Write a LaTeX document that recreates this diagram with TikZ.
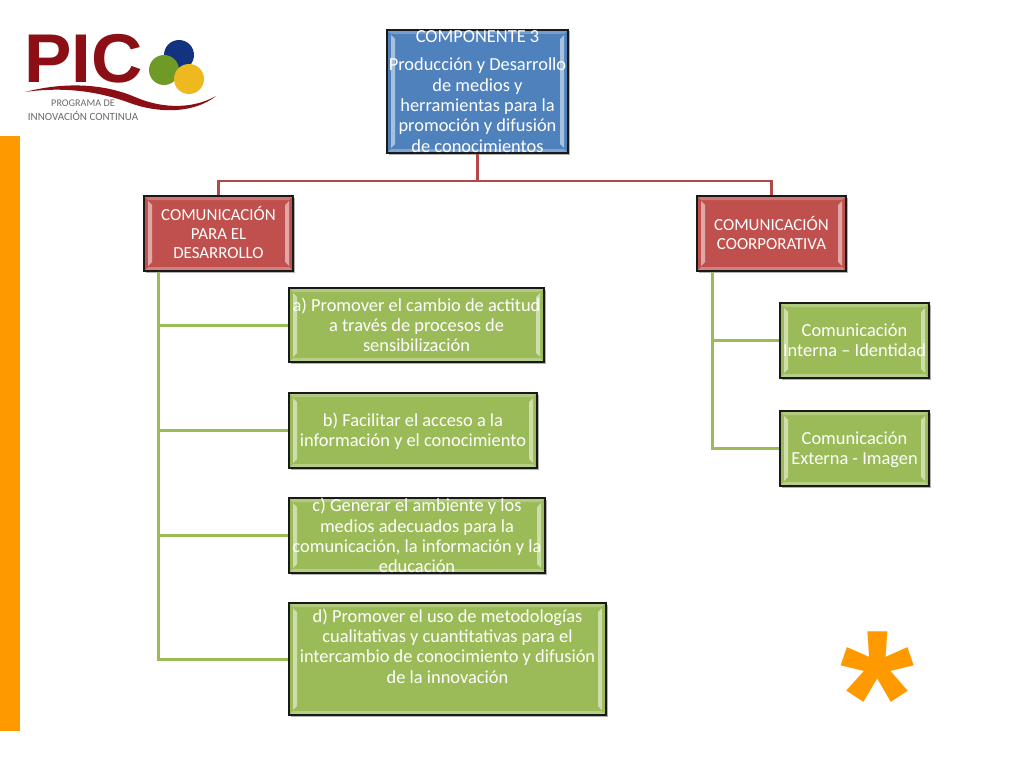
\documentclass[tikz,border=0pt]{standalone}
\usepackage{fontspec}
\setmainfont{Carlito}
\newfontfamily\logofont[FakeStretch=1.03]{Liberation Sans}
\newfontfamily\starfont{Liberation Sans}
\usetikzlibrary{calc}
\definecolor{accblue}{HTML}{4F81BD}
\definecolor{accred}{HTML}{C0504D}
\definecolor{accgreen}{HTML}{9BBB59}
\definecolor{barorange}{HTML}{FF9900}
\definecolor{logored}{HTML}{8B0F14}
\definecolor{logoblue}{HTML}{12337F}
\definecolor{logogreen}{HTML}{6E9A25}
\definecolor{logoyellow}{HTML}{EDB91F}
\definecolor{logogray}{HTML}{6B6B6B}
\newcommand{\bevel}[1]{%
  \fill[#1!78!white] ($(path picture bounding box.north west)+(1,1)$) -- ($(path picture bounding box.north east)+(-1,1)$) -- ($(path picture bounding box.north east)+(-4,4)$) -- ($(path picture bounding box.north west)+(4,4)$) -- cycle;
  \fill[#1!72!white] ($(path picture bounding box.south west)+(1,-1)$) -- ($(path picture bounding box.south east)+(-1,-1)$) -- ($(path picture bounding box.south east)+(-4,-4)$) -- ($(path picture bounding box.south west)+(4,-4)$) -- cycle;
  \fill[#1!50!white] ($(path picture bounding box.north west)+(4,5)$) -- ($(path picture bounding box.north west)+(8,9)$) -- ($(path picture bounding box.south west)+(8,-9)$) -- ($(path picture bounding box.south west)+(4,-5)$) -- cycle;
  \fill[#1!50!white] ($(path picture bounding box.north east)+(-4,5)$) -- ($(path picture bounding box.north east)+(-8,9)$) -- ($(path picture bounding box.south east)+(-8,-9)$) -- ($(path picture bounding box.south east)+(-4,-5)$) -- cycle;
}
\tikzset{
  x=1pt,y=-1pt,
  panel/.style={draw=black!90,line width=1.2pt,inner sep=0pt,fill=#1,
    path picture={\bevel{#1}}},
  bodytext/.style={text=white,align=center,inner sep=0pt,font=\fontsize{18.4}{20.3}\selectfont},
  captext/.style={text=white,align=center,inner sep=0pt,font=\fontsize{16.9}{19}\selectfont},
  redline/.style={draw=accred!92!black,line width=2.8pt},
  greenline/.style={draw=accgreen,line width=3pt},
}
\newcommand{\panelbox}[6]{% name, colour, x0,y0,x1,y1
  \fill[black!30] (#3+1.5,#4+1.5) rectangle (#5+1.5,#6+1.5);
  \node[panel=#2,minimum width=#5pt-#3pt,minimum height=#6pt-#4pt] (#1) at ({(#3+#5)/2},{(#4+#6)/2}) {};
}
\begin{document}
\begin{tikzpicture}
\useasboundingbox (0,0) rectangle (1024,768);
\fill[white] (0,0) rectangle (1024,768);
% orange bar
\fill[barorange] (0,136) rectangle (20,731);
% logo
\node[anchor=base west,inner sep=0pt,text=logored,font=\logofont\bfseries\fontsize{69}{69}\selectfont] (pic) at (24,82) {PIC};
\fill[logoblue] (179,55) circle (15);
\fill[logogreen] (164,70) circle (15);
\fill[logoyellow] (189,79) circle (15);
\fill[logored] (25,92) .. controls (60,83) and (100,82) .. (135,97) .. controls (165,110) and (195,108) .. (216,96) .. controls (195,113) and (160,114) .. (130,103) .. controls (95,90) and (60,87) .. (25,92) -- cycle;
\node[text=logogray,inner sep=0pt,font=\fontsize{10.2}{10.2}\selectfont] (logoa) at (83,103) {PROGRAMA DE};
\node[text=logogray,inner sep=0pt,font=\fontsize{11}{11}\selectfont] (logob) at (83,116) {INNOVACIÓN CONTINUA};
% asterisk
\node[text=barorange,inner sep=0pt,font=\starfont\bfseries\fontsize{190}{190}\selectfont] (star) at (877,697) {*};
% panels
\panelbox{top}{accblue}{387}{30}{568}{153}
\panelbox{lft}{accred}{144}{196}{293}{271}
\panelbox{rgt}{accred}{697}{196}{846}{271}
\panelbox{a}{accgreen}{289}{288}{544}{362}
\panelbox{b}{accgreen}{289}{393}{537}{468}
\panelbox{c}{accgreen}{289}{498}{545}{573}
\panelbox{d}{accgreen}{289}{603}{606}{715}
\panelbox{e}{accgreen}{780}{303}{929}{378}
\panelbox{f}{accgreen}{780}{411}{929}{486}
% connectors
\coordinate (tmid) at (477.5,181);
\draw[redline] (top.south) -- (tmid);
\draw[redline] (lft.north) |- (tmid) -| (rgt.north);
\coordinate (ltrunk) at ($(lft.south west)+(15,0)$);
\coordinate (rtrunk) at ($(rgt.south west)+(16,0)$);
\draw[greenline] (ltrunk) |- (a.west);
\draw[greenline] (ltrunk) |- (b.west);
\draw[greenline] (ltrunk) |- (c.west);
\draw[greenline] (ltrunk) |- (d.west);
\draw[greenline] (rtrunk) |- (e.west);
\draw[greenline] (rtrunk) |- (f.west);
% labels
\node[bodytext] (topt) at (top) {COMPONENTE 3\\[8pt]Producción y Desarrollo\\de medios y\\herramientas para la\\promoción y difusión\\de conocimientos};
\node[captext] (lftt) at ($(lft)+(0,-1)$) {COMUNICACIÓN\\PARA EL\\DESARROLLO};
\node[captext] (rgtt) at ($(rgt)+(0,-1)$) {COMUNICACIÓN\\COORPORATIVA};
\node[bodytext] (at) at (a) {a) Promover el cambio de actitud\\a través de procesos de\\sensibilización};
\node[bodytext] (bt) at ($(b)+(0,1)$) {b) Facilitar el acceso a la\\información y el conocimiento};
\node[bodytext] (ct) at (c) {c) Generar el ambiente y los\\medios adecuados para la\\comunicación, la información y la\\educación};
\node[bodytext] (dt) at ($(d)+(0,-13)$) {d) Promover el uso de metodologías\\cualitativas y cuantitativas para el\\intercambio de conocimiento y difusión\\de la innovación};
\node[bodytext] (et) at (e) {Comunicación\\Interna – Identidad};
\node[bodytext] (ft) at ($(f)+(0,1)$) {Comunicación\\Externa - Imagen};
\end{tikzpicture}
\end{document}
